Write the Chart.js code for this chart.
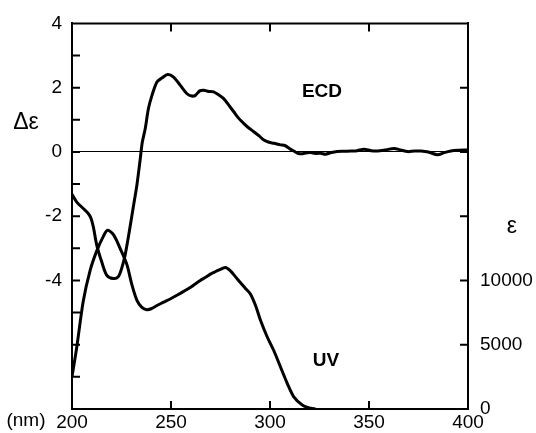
<!DOCTYPE html>
<html>
<head>
<meta charset="utf-8">
<script src="https://cdn.jsdelivr.net/npm/chart.js@4/dist/chart.umd.min.js"></script>
<style>
  html, body { margin: 0; padding: 0; background: #fff; }
  #wrap { width: 536px; height: 433px; position: relative; }
</style>
</head>
<body>
<div id="wrap"><canvas id="cd"></canvas></div>
<script>
// ECD (left axis, Δε) and UV (right axis, ε) against wavelength in nm
const ecdWavelength = [200, 202.4, 205.7, 208, 209.5, 210.8, 212.5, 215, 217.6, 220.9, 223.4, 225.2, 226.8,
  228.6, 231, 232.8, 234.4, 235.5, 237, 238.6, 240.4, 242.9, 245.4, 248.3, 251.3, 254.7, 258.1, 260.5,
  262.3, 264.5, 266.5, 269, 271.5, 274, 276.6, 279, 281.7, 284, 286.7, 289, 291.8, 294.5, 296.9, 299.5,
  302, 305.3, 307.5, 310, 312, 314, 316, 318, 320.5, 323, 325.6, 328, 331, 334, 337, 340.8, 344, 347.5,
  351, 354.3, 358, 362.7, 366, 369.5, 373, 376.2, 380, 384.6, 388, 391.4, 395, 400];
const ecdValues = [-1.32, -1.56, -1.76, -1.9, -2.05, -2.34, -2.9, -3.42, -3.84, -3.94, -3.88, -3.6, -3.22,
  -2.6, -1.7, -1.02, -0.25, 0.3, 0.73, 1.35, 1.76, 2.18, 2.3, 2.41, 2.33, 2.07, 1.81, 1.74,
  1.76, 1.9, 1.92, 1.88, 1.87, 1.78, 1.66, 1.47, 1.25, 1.06, 0.89, 0.76, 0.63, 0.5, 0.37, 0.3,
  0.27, 0.22, 0.2, 0.1, 0.03, -0.04, -0.06, -0.03, -0.02, -0.05, -0.04, -0.07, -0.02, 0.01, 0.02, 0.03, 0.04, 0.08,
  0.04, 0.03, 0.06, 0.11, 0.06, 0.01, 0.03, 0.03, 0.0, -0.09, -0.02, 0.03, 0.05, 0.06];

const uvWavelength = [200, 202.4, 205.7, 209.1, 212.5, 215.9, 218, 221, 224.3, 227.7, 230.2, 232.8, 235.3,
  237.8, 240, 242.9, 246, 249.6, 253, 256.4, 259.7, 262, 264.8, 267.5, 269.9, 272, 274, 277.5, 280,
  282.5, 285, 287.5, 290.1, 292.7, 295.2, 298.6, 301.9, 305.3, 308.7, 312, 316.3, 320.5, 323];
const uvValues = [2500, 4800, 8400, 10750, 12300, 13450, 13900, 13550, 12500, 11250, 9700, 8450, 7900,
  7730, 7800, 8050, 8300, 8560, 8850, 9150, 9450, 9700, 10000, 10250, 10490, 10650, 10800, 11000, 10750,
  10300, 9840, 9400, 8950, 8050, 6900, 5600, 4550, 3270, 2000, 950, 320, 60, 0];

const xTickLabels = [200, 250, 300, 350, 400];
const leftTickLabels = [-4, -2, 0, 2, 4];
const rightTickLabels = [0, 5000, 10000];

const FONT = '"Liberation Sans", Arial, Helvetica, sans-serif';
Chart.defaults.font.family = FONT;
Chart.defaults.font.size = 19;
Chart.defaults.color = '#000';

const toPoints = (xs, ys) => xs.map((x, i) => ({ x: x, y: ys[i] }));

// inward tick marks, top frame line and free text
const decorations = {
  id: 'decorations',
  afterDraw(chart) {
    const ctx = chart.ctx;
    const { left, right, top, bottom } = chart.chartArea;
    const sx = chart.scales.x, sy = chart.scales.y, sy2 = chart.scales.y2;
    ctx.save();
    ctx.strokeStyle = '#000';
    ctx.lineWidth = 2;
    ctx.beginPath();
    ctx.moveTo(left - 1, top);
    ctx.lineTo(right + 1, top);
    sx.ticks.forEach(t => {
      if (t.value <= 200 || t.value >= 400) return;
      const px = sx.getPixelForValue(t.value);
      ctx.moveTo(px, bottom); ctx.lineTo(px, bottom - 8);
      ctx.moveTo(px, top); ctx.lineTo(px, top + 8);
    });
    sy.ticks.forEach(t => {
      const py = sy.getPixelForValue(t.value);
      ctx.moveTo(left, py); ctx.lineTo(left + 8, py);
    });
    sy2.ticks.forEach(t => {
      const py = sy2.getPixelForValue(t.value);
      ctx.moveTo(right, py); ctx.lineTo(right - 8, py);
    });
    ctx.stroke();

    ctx.fillStyle = '#000';
    ctx.textAlign = 'center';
    ctx.textBaseline = 'middle';
    ctx.font = '23px ' + FONT;
    ctx.fillText('Δε', 26, 123);
    ctx.fillText('ε', 512, 227);
    ctx.font = '19px ' + FONT;
    ctx.fillText('(nm)', 26, 421);
    ctx.font = 'bold 19px ' + FONT;
    ctx.fillText('ECD', 322, 92);
    ctx.fillText('UV', 326, 361);
    ctx.restore();
  }
};

new Chart(document.getElementById('cd'), {
  type: 'line',
  data: {
    datasets: [
      {
        label: 'ECD',
        data: toPoints(ecdWavelength, ecdValues),
        yAxisID: 'y',
        borderColor: '#000',
        borderWidth: 3,
        pointRadius: 0,
        tension: 0.3,
        fill: false
      },
      {
        label: 'UV',
        data: toPoints(uvWavelength, uvValues),
        yAxisID: 'y2',
        borderColor: '#000',
        borderWidth: 3,
        pointRadius: 0,
        tension: 0.3,
        fill: false
      }
    ]
  },
  options: {
    responsive: true,
    maintainAspectRatio: false,
    animation: false,
    layout: { padding: { top: 21 } },
    plugins: {
      legend: { display: false },
      tooltip: { enabled: false }
    },
    scales: {
      x: {
        type: 'linear',
        position: 'bottom',
        min: 200,
        max: 400,
        afterFit(s) { s.height = 24; },
        ticks: {
          stepSize: 50,
          autoSkip: false,
          maxRotation: 0,
          padding: 2,
          callback: v => xTickLabels.includes(v) ? String(v) : ''
        },
        grid: { display: false, drawTicks: false },
        border: { display: true, color: '#000', width: 2 }
      },
      y: {
        position: 'left',
        min: -8,
        max: 4,
        afterFit(s) { s.width = 72; },
        ticks: {
          stepSize: 1,
          autoSkip: false,
          padding: 10,
          callback: v => leftTickLabels.includes(v) ? String(v) : ''
        },
        grid: {
          display: true,
          drawTicks: false,
          drawOnChartArea: true,
          lineWidth: 1,
          color: c => (c.tick && c.tick.value === 0) ? '#000' : 'rgba(0,0,0,0)'
        },
        border: { display: true, color: '#000', width: 2 }
      },
      y2: {
        position: 'right',
        min: 0,
        max: 30000,
        afterFit(s) { s.width = 68; },
        ticks: {
          stepSize: 5000,
          autoSkip: false,
          padding: 12,
          callback: v => rightTickLabels.includes(v) ? String(v) : ''
        },
        grid: { display: false, drawTicks: false },
        border: { display: true, color: '#000', width: 2 }
      }
    }
  },
  plugins: [decorations]
});
</script>
</body>
</html>
